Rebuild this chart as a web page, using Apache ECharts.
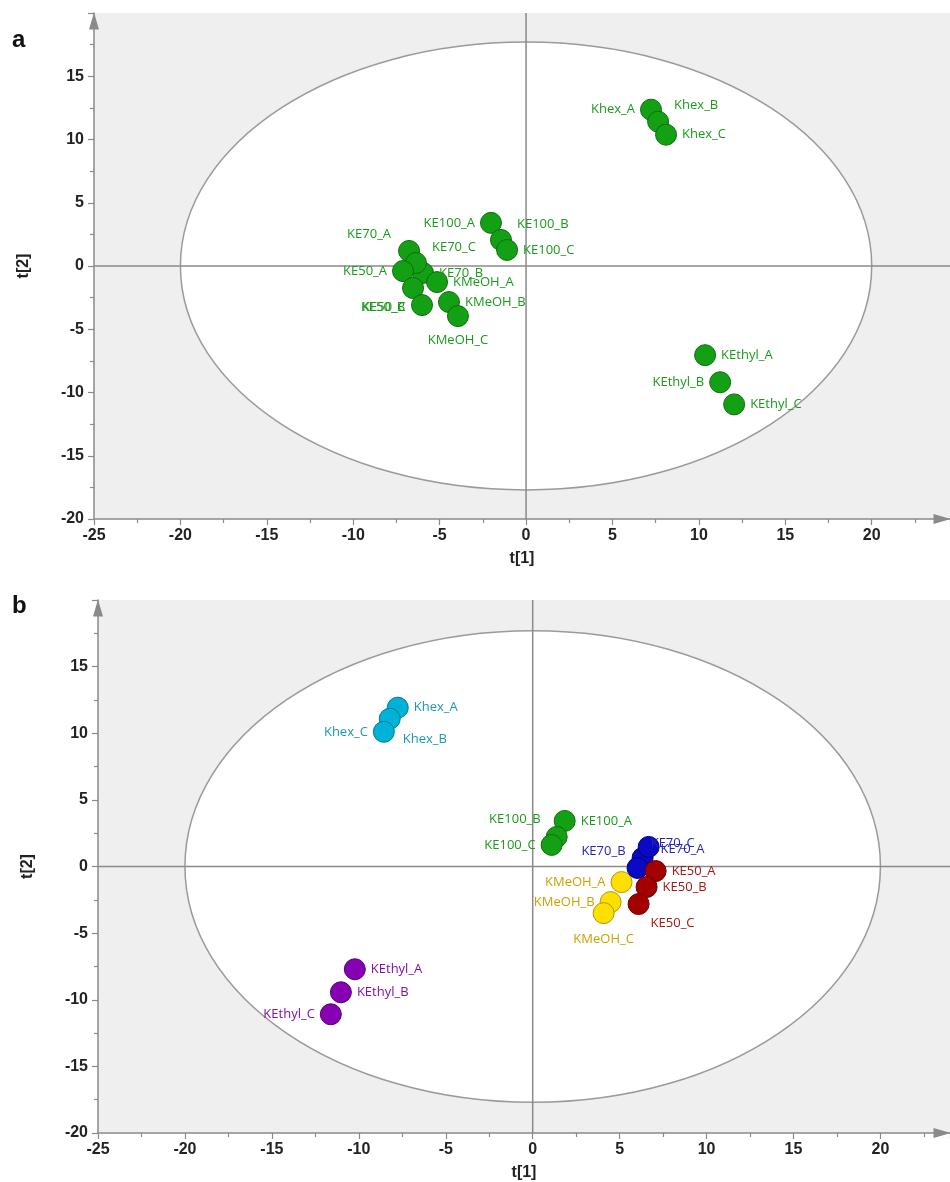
<!DOCTYPE html>
<html>
<head>
<meta charset="utf-8">
<script src="https://cdn.jsdelivr.net/npm/echarts@6/dist/echarts.min.js"></script>
<style>
  html, body { margin: 0; padding: 0; background: #fff; }
  #chart { width: 950px; height: 1182px; }
</style>
</head>
<body>
<div id="chart"></div>
<script>
// ---- Panel a: PCA scores, all samples in one colour ----
const namesA = ['Khex_A','Khex_B','Khex_C','KE100_A','KE100_B','KE100_C','KE70_A','KE70_B','KE70_C',
                'KE50_A','KE50_B','KE50_C','KMeOH_A','KMeOH_B','KMeOH_C','KEthyl_A','KEthyl_B','KEthyl_C'];
const t1A = [7.23, 7.64, 8.10, -2.03, -1.45, -1.10, -6.77, -5.96, -6.37,
             -7.12, -6.54, -6.02, -5.15, -4.46, -3.94, 10.36, 11.23, 12.04];
const t2A = [12.36, 11.41, 10.38, 3.41, 2.06, 1.27, 1.19, -0.55, 0.24,
             -0.40, -1.74, -3.09, -1.27, -2.85, -3.96, -7.05, -9.19, -10.94];

// ---- Panel b: PCA scores, coloured by extract ----
const groupsB = ['KE100', 'KMeOH', 'KE70', 'KE50', 'Khex', 'KEthyl'];
const namesB = {
  KE100:  ['KE100_A', 'KE100_B', 'KE100_C'],
  KMeOH:  ['KMeOH_A', 'KMeOH_B', 'KMeOH_C'],
  KE70:   ['KE70_A', 'KE70_B', 'KE70_C'],
  KE50:   ['KE50_A', 'KE50_B', 'KE50_C'],
  Khex:   ['Khex_A', 'Khex_B', 'Khex_C'],
  KEthyl: ['KEthyl_A', 'KEthyl_B', 'KEthyl_C']
};
const t1B = {
  KE100:  [1.84, 1.38, 1.09],
  KMeOH:  [5.11, 4.48, 4.08],
  KE70:   [6.32, 6.03, 6.67],
  KE50:   [7.07, 6.55, 6.09],
  Khex:   [-7.76, -8.22, -8.56],
  KEthyl: [-10.23, -11.03, -11.61]
};
const t2B = {
  KE100:  [3.42, 2.22, 1.62],
  KMeOH:  [-1.17, -2.67, -3.50],
  KE70:   [0.64, -0.11, 1.47],
  KE50:   [-0.34, -1.54, -2.82],
  Khex:   [11.92, 11.09, 10.11],
  KEthyl: [-7.71, -9.44, -11.09]
};

// Hotelling's T2 (95%) ellipse half-axes
const ellipseA = [20, 17.7];
const ellipseB = [20, 17.7];

// Axis tick values
const xTicks = [-25, -20, -15, -10, -5, 0, 5, 10, 15, 20];
const yTicks = [-20, -15, -10, -5, 0, 5, 10, 15];

// ---- styling ----
const groupStyle = {
  KE100:  { fill: '#14a014', border: '#0b6e0b', text: '#1a9a1a' },
  KMeOH:  { fill: '#ffdf00', border: '#b89400', text: '#c9a300' },
  KE70:   { fill: '#0a0ac4', border: '#00007a', text: '#2424b8' },
  KE50:   { fill: '#a50000', border: '#650000', text: '#a01818' },
  Khex:   { fill: '#00b2d6', border: '#00789a', text: '#1a98b6' },
  KEthyl: { fill: '#8800b4', border: '#52006e', text: '#8410a6' }
};
const greenA = { fill: '#14a014', border: '#0b6e0b', text: '#1a9a1a' };

// label placement: [position, dx, dy]
const placeA = {
  Khex_A: ['left', 0, 0], Khex_B: ['right', 0, -16], Khex_C: ['right', 0, 0],
  KE100_A: ['left', 0, 0], KE100_B: ['right', 0, -16], KE100_C: ['right', 0, 0],
  KE70_A: ['left', -2, -17], KE70_B: ['right', 0, 0], KE70_C: ['right', 0, -16],
  KE50_A: ['left', 0, 0], KE50_B: ['left', 8, 19], KE50_C: ['left', 0, 2],
  KMeOH_A: ['right', 0, 0], KMeOH_B: ['right', 0, 0], KMeOH_C: ['bottom', 0, 2],
  KEthyl_A: ['right', 0, 0], KEthyl_B: ['left', 0, 0], KEthyl_C: ['right', 0, 0]
};
const placeB = {
  Khex_A: ['right', 0, 0], Khex_B: ['right', -3, 21], Khex_C: ['left', 0, 1],
  KE100_A: ['right', 0, 0], KE100_B: ['left', 0, -18], KE100_C: ['left', 0, 0],
  KE70_A: ['right', 2, -9], KE70_B: ['left', 4, -17], KE70_C: ['right', -14, -4],
  KE50_A: ['right', 0, 0], KE50_B: ['right', 0, 0], KE50_C: ['right', -4, 19],
  KMeOH_A: ['left', 0, 0], KMeOH_B: ['left', 0, 0], KMeOH_C: ['bottom', 0, 4],
  KEthyl_A: ['right', 0, 0], KEthyl_B: ['right', 0, 0], KEthyl_C: ['left', 0, 0]
};

const LABEL_FONT = '"Open Sans", "Noto Sans", sans-serif';
const TICK_FONT = '"Liberation Sans", Arial, sans-serif';
const AXIS_GREY = '#8a8a8a';

function pointItems(names, xs, ys, place) {
  return names.map((n, i) => {
    const p = place[n];
    return {
      name: n,
      value: [xs[i], ys[i]],
      label: { position: p[0], offset: [p[1], p[2]] }
    };
  });
}

function scatterSeries(idx, data, st) {
  return {
    type: 'scatter',
    xAxisIndex: idx, yAxisIndex: idx,
    z: 5,
    symbolSize: 21,
    data: data,
    itemStyle: { color: st.fill, borderColor: st.border, borderWidth: 1, opacity: 1 },
    label: {
      show: true, formatter: '{b}', color: st.text,
      fontFamily: LABEL_FONT, fontSize: 13, distance: 5
    },
    emphasis: { disabled: true },
    animation: false
  };
}

// ellipse + zero lines, drawn in data space
function ellipseSeries(idx, radii) {
  return {
    type: 'custom',
    xAxisIndex: idx, yAxisIndex: idx,
    z: 1,
    silent: true,
    animation: false,
    data: [[0, 0, radii[0], radii[1]]],
    encode: { x: 0, y: 1 },
    renderItem: function (params, api) {
      const cs = params.coordSys;
      const c = api.coord([api.value(0), api.value(1)]);
      const s = api.size([api.value(2), api.value(3)]);
      return {
        type: 'group',
        children: [
          { type: 'ellipse', shape: { cx: c[0], cy: c[1], rx: s[0], ry: s[1] },
            style: { fill: '#ffffff', stroke: '#9a9a9a', lineWidth: 1.5 } },
          { type: 'line', shape: { x1: c[0], y1: cs.y, x2: c[0], y2: cs.y + cs.height },
            style: { stroke: AXIS_GREY, lineWidth: 1.5 } },
          { type: 'line', shape: { x1: cs.x, y1: c[1], x2: cs.x + cs.width, y2: c[1] },
            style: { stroke: AXIS_GREY, lineWidth: 1.5 } }
        ]
      };
    }
  };
}

const axisLineStyle = {
  show: true, onZero: false,
  symbol: ['none', 'triangle'], symbolSize: [10, 17], symbolOffset: [0, -8],
  lineStyle: { color: AXIS_GREY, width: 1.5 }
};

function xAxisDef(idx, max) {
  return {
    type: 'value', gridIndex: idx,
    min: xTicks[0], max: max, interval: 5,
    name: 't[1]', nameLocation: 'middle', nameGap: 32,
    nameTextStyle: { fontFamily: TICK_FONT, fontWeight: 'bold', fontSize: 16, color: '#222' },
    axisLine: axisLineStyle,
    axisTick: { show: true, length: 6, lineStyle: { color: AXIS_GREY, width: 1.2 } },
    minorTick: { show: true, splitNumber: 2, length: 4, lineStyle: { color: AXIS_GREY, width: 1.2 } },
    splitLine: { show: false },
    minorSplitLine: { show: false },
    axisLabel: {
      showMaxLabel: false, margin: 9,
      fontFamily: TICK_FONT, fontWeight: 'bold', fontSize: 16, color: '#222',
      formatter: v => (xTicks.indexOf(v) >= 0 ? String(v) : '')
    }
  };
}

function yAxisDef(idx) {
  return {
    type: 'value', gridIndex: idx,
    min: yTicks[0], max: 20, interval: 5,
    name: 't[2]', nameLocation: 'middle', nameGap: 62, nameRotate: 90,
    nameTextStyle: { fontFamily: TICK_FONT, fontWeight: 'bold', fontSize: 16, color: '#222' },
    axisLine: axisLineStyle,
    axisTick: { show: true, length: 6, lineStyle: { color: AXIS_GREY, width: 1.2 } },
    minorTick: { show: true, splitNumber: 2, length: 4, lineStyle: { color: AXIS_GREY, width: 1.2 } },
    splitLine: { show: false },
    minorSplitLine: { show: false },
    axisLabel: {
      showMaxLabel: false, margin: 10,
      fontFamily: TICK_FONT, fontWeight: 'bold', fontSize: 16, color: '#222',
      formatter: v => (yTicks.indexOf(v) >= 0 ? String(v) : '')
    }
  };
}

const series = [
  ellipseSeries(0, ellipseA),
  scatterSeries(0, pointItems(namesA, t1A, t2A, placeA), greenA),
  ellipseSeries(1, ellipseB)
];
groupsB.forEach(g => {
  series.push(scatterSeries(1, pointItems(namesB[g], t1B[g], t2B[g], placeB), groupStyle[g]));
});

const chart = echarts.init(document.getElementById('chart'), null, { renderer: 'canvas' });
chart.setOption({
  animation: false,
  backgroundColor: '#ffffff',
  grid: [
    { left: 94, top: 13, width: 856, height: 506, show: true, backgroundColor: '#efefef', borderWidth: 0 },
    { left: 98, top: 600, width: 852, height: 533, show: true, backgroundColor: '#efefef', borderWidth: 0 }
  ],
  xAxis: [xAxisDef(0, 24.53), xAxisDef(1, 24)],
  yAxis: [yAxisDef(0), yAxisDef(1)],
  graphic: [
    { type: 'text', left: 12, top: 28, style: { text: 'a', fontFamily: TICK_FONT, fontWeight: 'bold', fontSize: 24, fill: '#111' } },
    { type: 'text', left: 12, top: 594, style: { text: 'b', fontFamily: TICK_FONT, fontWeight: 'bold', fontSize: 24, fill: '#111' } }
  ],
  series: series
});
</script>
</body>
</html>
